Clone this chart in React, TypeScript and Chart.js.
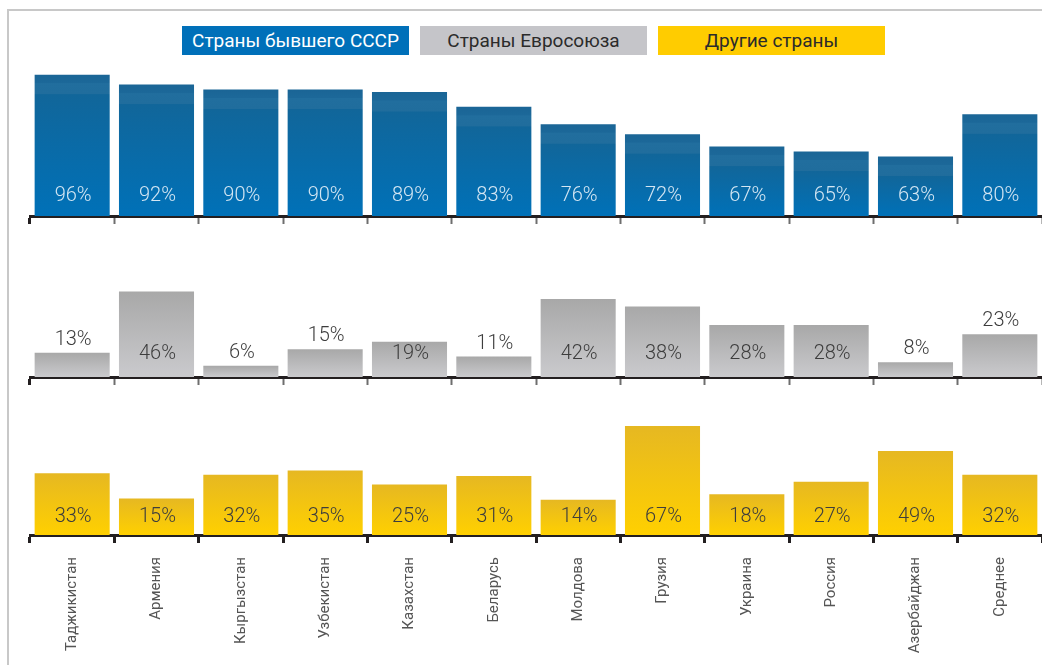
import React, { useEffect, useRef } from "react";
import { Chart, registerables } from "chart.js";

Chart.register(...registerables);

const categories = [
  "Таджикистан", "Армения", "Кыргызстан", "Узбекистан", "Казахстан", "Беларусь",
  "Молдова", "Грузия", "Украина", "Россия", "Азербайджан", "Среднее",
];
const seriesNames = ["Страны бывшего СССР", "Страны Евросоюза", "Другие страны"];
const cisValues = [96, 92, 90, 90, 89, 83, 76, 72, 67, 65, 63, 80];
const euValues = [13, 46, 6, 15, 19, 11, 42, 38, 28, 28, 8, 23];
const otherValues = [33, 15, 32, 35, 25, 31, 14, 67, 18, 27, 49, 32];
// categories whose EU value label sits above the bar
const euLabelsAbove = ["Таджикистан", "Кыргызстан", "Узбекистан", "Беларусь", "Азербайджан", "Среднее"];

type LabelOpts = {
  font: string;
  insideColor: string;
  outsideColor: string;
  above: string[];
  insideOffset: number;
  aboveGap: number;
};

const valueLabels = {
  id: "valueLabels",
  afterDatasetsDraw(chart: any, _args: any, opts: LabelOpts) {
    const { ctx, chartArea } = chart;
    const meta = chart.getDatasetMeta(0);
    const values = chart.data.datasets[0].data as number[];
    const labels = chart.data.labels as string[];
    ctx.save();
    ctx.font = opts.font;
    ctx.textAlign = "center";
    ctx.textBaseline = "middle";
    meta.data.forEach((bar: any, i: number) => {
      let y: number;
      if (opts.above.includes(labels[i])) {
        y = bar.y - opts.aboveGap;
        ctx.fillStyle = opts.outsideColor;
      } else {
        y = chartArea.bottom - opts.insideOffset;
        ctx.fillStyle = opts.insideColor;
      }
      ctx.fillText(values[i] + "%", bar.x + 1, y);
    });
    ctx.restore();
  },
};

type Stop = [number, string];

type PanelProps = {
  values: number[];
  min: number;
  max: number;
  top: number;
  height: number;
  axisHeight: number;
  showLabels: boolean;
  stops: (h: number) => Stop[];
  labelOpts: LabelOpts;
  tickStrong: boolean;
};

function Panel(p: PanelProps) {
  const ref = useRef<HTMLCanvasElement | null>(null);
  useEffect(() => {
    if (!ref.current) return;
    const chart = new Chart(ref.current, {
      type: "bar",
      data: {
        labels: categories,
        datasets: [
          {
            data: p.values,
            base: p.min,
            barPercentage: 0.89,
            categoryPercentage: 1,
            borderWidth: 0,
            backgroundColor: (c: any) => {
              const ch = c.chart;
              const area = ch.chartArea;
              const ys = ch.scales.y;
              if (!area || !ys || typeof c.raw !== "number") return "#888";
              const top = ys.getPixelForValue(c.raw);
              const bottom = area.bottom;
              const h = Math.max(1, bottom - top);
              const g = ch.ctx.createLinearGradient(0, top, 0, bottom);
              p.stops(h).forEach(([o, col]) => g.addColorStop(Math.min(1, Math.max(0, o)), col));
              return g;
            },
          } as any,
        ],
      },
      options: {
        animation: false,
        responsive: false,
        maintainAspectRatio: false,
        layout: { padding: { left: 30, right: 0, top: 0, bottom: 0 } },
        plugins: {
          legend: { display: false },
          tooltip: { enabled: false },
          valueLabels: p.labelOpts,
        } as any,
        scales: {
          x: {
            afterFit: (s: any) => {
              s.height = p.axisHeight;
            },
            border: { display: true, color: "#231f20", width: 3 },
            grid: {
              display: true,
              offset: true,
              drawOnChartArea: false,
              drawTicks: true,
              tickLength: 8,
              tickColor: (c: any) => (p.tickStrong || c.index === 0 ? "#231f20" : "#6e6e6e"),
              tickWidth: (c: any) => (p.tickStrong || c.index === 0 ? 3 : 2),
            },
            ticks: {
              display: p.showLabels,
              autoSkip: false,
              minRotation: 90,
              maxRotation: 90,
              padding: 14,
              color: "#555555",
              font: { family: "Roboto", size: 15 },
            },
          },
          y: {
            display: false,
            min: p.min,
            max: p.max,
          },
        },
      },
      plugins: [valueLabels],
    } as any);
    return () => chart.destroy();
  }, []);
  return (
    <div style={{ position: "absolute", left: 0, top: p.top, width: 1042, height: p.height }}>
      <canvas ref={ref} width={1042} height={p.height} style={{ width: 1042, height: p.height, display: "block" }} />
    </div>
  );
}

const legendColors = ["#0070b9", "#c5c5c9", "#ffcc00"];
const legendText = ["#ffffff", "#2b2b2b", "#2b2b2b"];
const legendLeft = [182, 420, 658];

export default function App() {
  return (
    <div
      style={{
        position: "fixed",
        left: 0,
        top: 0,
        width: 1042,
        height: 665,
        background: "#ffffff",
        overflow: "hidden",
        fontFamily: "Roboto, sans-serif",
      }}
    >
      <div
        style={{
          position: "absolute",
          left: 7,
          top: 9,
          width: 1100,
          height: 700,
          borderTop: "2px solid #c8c8c8",
          borderLeft: "2px solid #c8c8c8",
        }}
      />
      {seriesNames.map((n, i) => (
        <div
          key={n}
          style={{
            position: "absolute",
            left: legendLeft[i],
            top: 26,
            width: 227,
            height: 29,
            background: legendColors[i],
            color: legendText[i],
            fontSize: 19,
            lineHeight: "29px",
            textAlign: "center",
            whiteSpace: "nowrap",
          }}
        >
          {n}
        </div>
      ))}
      <Panel
        values={cisValues}
        min={39}
        max={102.3}
        top={59}
        height={167}
        axisHeight={10}
        showLabels={false}
        tickStrong={false}
        stops={(h) => [
          [0, "#1a6596"],
          [8 / h, "#1c6899"],
          [9 / h, "#216e9e"],
          [19 / h, "#206d9d"],
          [20 / h, "#11669a"],
          [1, "#0071b8"],
        ]}
        labelOpts={{
          font: "300 20px Roboto",
          insideColor: "#d4e6f3",
          outsideColor: "#d4e6f3",
          above: [],
          insideOffset: 20,
          aboveGap: 12,
        }}
      />
      <Panel
        values={euValues}
        min={0}
        max={52.2}
        top={280}
        height={107}
        axisHeight={10}
        showLabels={false}
        tickStrong={false}
        stops={() => [
          [0, "#a8a8a8"],
          [1, "#cacacd"],
        ]}
        labelOpts={{
          font: "300 20px Roboto",
          insideColor: "#3d3d3d",
          outsideColor: "#3d3d3d",
          above: euLabelsAbove,
          insideOffset: 23,
          aboveGap: 13,
        }}
      />
      <Panel
        values={otherValues}
        min={-11.3}
        max={71.3}
        top={420}
        height={245}
        axisHeight={130}
        showLabels={true}
        tickStrong={true}
        stops={() => [
          [0, "#e6b822"],
          [1, "#ffd000"],
        ]}
        labelOpts={{
          font: "300 20px Roboto",
          insideColor: "#3d3d3d",
          outsideColor: "#3d3d3d",
          above: [],
          insideOffset: 18,
          aboveGap: 12,
        }}
      />
    </div>
  );
}
